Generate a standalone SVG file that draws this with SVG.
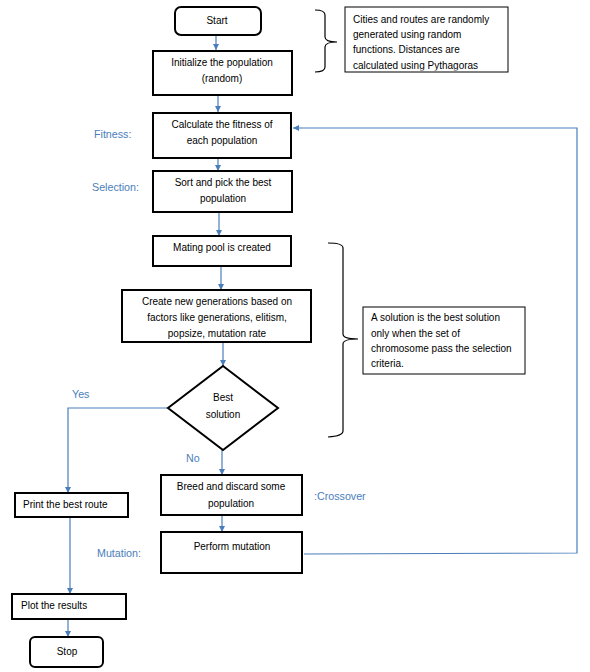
<svg xmlns="http://www.w3.org/2000/svg" width="590" height="672" viewBox="0 0 590 672">
<style>
text{font-family:"Liberation Sans",Arial,sans-serif;font-size:10px;fill:#000}
.c{text-anchor:middle}
.lbl{fill:#4a7ebb;font-size:10.7px}
.box{fill:#fff;stroke:#000;stroke-width:2}
.note{fill:#fff;stroke:#000;stroke-width:1}
.brace{fill:none;stroke:#000;stroke-width:1.2}
.con{fill:none;stroke:#4a7ebb;stroke-width:1.2}
</style>
<defs>
<marker id="ah" markerUnits="userSpaceOnUse" markerWidth="8" markerHeight="8" refX="6" refY="3" orient="auto">
<path d="M0,0 L6,3 L0,6 Z" fill="#4a7ebb"/>
</marker>
<clipPath id="clip1"><rect x="345" y="7" width="163" height="63.5"/></clipPath>
</defs>

<g id="connectors">
<path class="con" d="M216,35 V50" marker-end="url(#ah)"/>
<path class="con" d="M218,95 V112" marker-end="url(#ah)"/>
<path class="con" d="M218,158 V171" marker-end="url(#ah)"/>
<path class="con" d="M219,212 V236" marker-end="url(#ah)"/>
<path class="con" d="M221,266 V290" marker-end="url(#ah)"/>
<path class="con" d="M223,342 V366" marker-end="url(#ah)"/>
<path class="con" d="M222,450 V475" marker-end="url(#ah)"/>
<path class="con" d="M168,408 H68 V493" marker-end="url(#ah)"/>
<path class="con" d="M222,515 V532" marker-end="url(#ah)"/>
<path class="con" d="M304,554 L577,553 V128 H293" marker-end="url(#ah)"/>
<path class="con" d="M70,517 V594" marker-end="url(#ah)"/>
<path class="con" d="M68,619 V637" marker-end="url(#ah)"/>
</g>

<g id="start">
<rect class="box" x="175" y="7" width="86" height="28" rx="6"/>
<text class="c" x="217" y="24">Start</text>
</g>

<g id="init">
<rect class="box" x="153" y="51" width="139" height="44"/>
<text class="c" x="222" y="66">Initialize the population</text>
<text class="c" x="222" y="82">(random)</text>
</g>

<g id="note1">
<path class="brace" d="M315,10 Q325,10 325,15 L325,37 Q325,42 337,42 Q325,42 325,47 L325,67 Q325,72 315,72"/>
<rect class="note" x="345" y="7" width="163" height="65"/>
<g clip-path="url(#clip1)">
<text x="353" y="23">Cities and routes are randomly</text>
<text x="353" y="38">generated using random</text>
<text x="353" y="53">functions. Distances are</text>
<text x="353" y="69">calculated using Pythagoras</text>
</g>
</g>

<g id="fitness">
<rect class="box" x="153" y="113" width="138" height="45"/>
<text class="c" x="222" y="128">Calculate the fitness of</text>
<text class="c" x="222" y="144">each population</text>
<text class="lbl" x="94" y="138">Fitness:</text>
</g>

<g id="selection">
<rect class="box" x="153" y="171" width="139" height="41"/>
<text class="c" x="223" y="186">Sort and pick the best</text>
<text class="c" x="223" y="202">population</text>
<text class="lbl" x="92" y="191">Selection:</text>
</g>

<g id="mating">
<rect class="box" x="153" y="236" width="138" height="30"/>
<text class="c" x="222" y="251">Mating pool is created</text>
</g>

<g id="create">
<rect class="box" x="122" y="290" width="189" height="52"/>
<text class="c" x="217" y="305">Create new generations based on</text>
<text class="c" x="217" y="321">factors like generations, elitism,</text>
<text class="c" x="217" y="337">popsize, mutation rate</text>
</g>

<g id="note2">
<path class="brace" d="M328,243 Q343,243 343,248 L343,334 Q343,339 358,339 Q343,339 343,344 L343,431 Q343,436 328,437"/>
<rect class="note" x="363" y="307" width="162" height="67"/>
<text x="371" y="321">A solution is the best solution</text>
<text x="371" y="337">only when the set of</text>
<text x="371" y="352">chromosome pass the selection</text>
<text x="371" y="367">criteria.</text>
</g>

<g id="decision">
<path class="box" d="M223,366 L278,408 L223,450 L168,408 Z"/>
<text class="c" x="223" y="401">Best</text>
<text class="c" x="223" y="418">solution</text>
<text class="lbl" x="72" y="398">Yes</text>
<text class="lbl" x="186" y="462">No</text>
</g>

<g id="breed">
<rect class="box" x="161" y="475" width="141" height="40"/>
<text class="c" x="231" y="490">Breed and discard some</text>
<text class="c" x="231" y="507">population</text>
<text class="lbl" x="314" y="500">:Crossover</text>
</g>

<g id="mutation">
<rect class="box" x="161" y="532" width="141" height="41"/>
<text class="c" x="232" y="550">Perform mutation</text>
<text class="lbl" x="97" y="557">Mutation:</text>
</g>

<g id="print">
<rect class="box" x="15" y="493" width="113" height="24"/>
<text x="23" y="508">Print the best route</text>
</g>

<g id="plot">
<rect class="box" x="12" y="594" width="114" height="25"/>
<text x="21" y="609">Plot the results</text>
</g>

<g id="stop">
<rect class="box" x="30" y="637" width="73" height="30" rx="5"/>
<text class="c" x="67" y="655">Stop</text>
</g>
</svg>
